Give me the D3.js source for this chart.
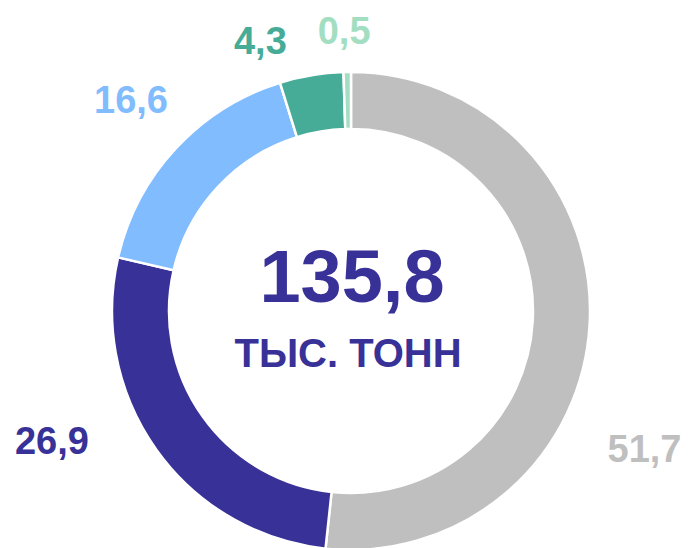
<!doctype html>
<html>
<head>
<meta charset="utf-8">
<style>
    body {
        margin: 0;
        background: #fff;
    }
    svg {
        display: block;
    }
    text {
        font-family: 'Liberation Sans', Arial, sans-serif;
        font-weight: bold;
    }
</style>
<script src="https://d3js.org/d3.v7.min.js"></script>
</head>
<body>
<svg width="689" height="548"></svg>
<script>
    const labels = ['51,7', '26,9', '16,6', '4,3', '0,5'];
    const values = [51.7, 26.9, 16.6, 4.3, 0.5];
    const colors = ['#BFBFBF', '#383197', '#80BCFE', '#46AC97', '#A4DEC2'];
    const total = '135,8';
    const unit = 'ТЫС. ТОНН';

    // label placement tweaks (angle shift in degrees, radius)
    const labelShift = [22, 12, 1, -9, -0.5];
    const labelRadius = [324, 326, 305, 285, 281];

    const svg = d3.select('svg');
    const cx = 351, cy = 311;
    const outerR = 239, innerR = 182;

    const chart = svg.append('g')
        .attr('transform', `translate(${cx}, ${cy})`);

    const pie = d3.pie().sort(null).value(d => d)
        .startAngle(0).endAngle(2 * Math.PI);

    const arcs = pie(values);

    const arc = d3.arc()
        .innerRadius(innerR)
        .outerRadius(outerR);

    chart.selectAll('path.slice')
        .data(arcs)
        .enter()
        .append('path')
        .attr('class', 'slice')
        .attr('d', arc)
        .attr('fill', (d, i) => colors[i])
        .attr('stroke', '#fff')
        .attr('stroke-width', 2.5)
        .attr('stroke-linejoin', 'miter');

    chart.selectAll('text.label')
        .data(arcs)
        .enter()
        .append('text')
        .attr('class', 'label')
        .attr('x', (d, i) => {
            const a = (d.startAngle + d.endAngle) / 2 + labelShift[i] * Math.PI / 180;
            return Math.sin(a) * labelRadius[i];
        })
        .attr('y', (d, i) => {
            const a = (d.startAngle + d.endAngle) / 2 + labelShift[i] * Math.PI / 180;
            return -Math.cos(a) * labelRadius[i];
        })
        .attr('dy', '0.36em')
        .attr('text-anchor', 'middle')
        .attr('font-size', 38)
        .attr('fill', (d, i) => colors[i])
        .text((d, i) => labels[i]);

    chart.append('text')
        .attr('x', 1)
        .attr('y', -9)
        .attr('text-anchor', 'middle')
        .attr('font-size', 74)
        .attr('fill', '#383197')
        .text(total);

    chart.append('text')
        .attr('x', -3)
        .attr('y', 56)
        .attr('text-anchor', 'middle')
        .attr('font-size', 40)
        .attr('fill', '#383197')
        .text(unit);
</script>
</body>
</html>
